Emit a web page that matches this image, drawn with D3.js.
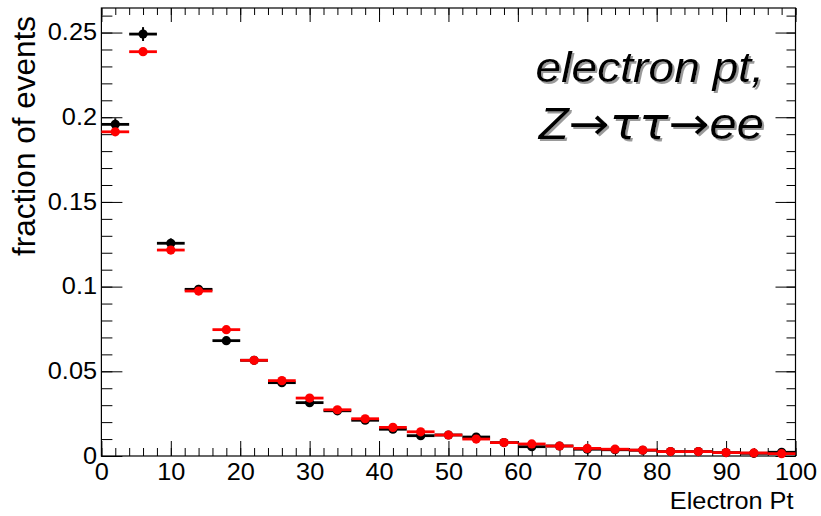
<!DOCTYPE html>
<html>
<head>
<meta charset="utf-8">
<script src="https://cdn.jsdelivr.net/npm/d3@7"></script>
<style>
  html, body { margin: 0; padding: 0; background: #fff; }
  svg { display: block; }
  text { font-family: "Liberation Sans", Arial, Helvetica, sans-serif; }
</style>
</head>
<body>
<svg id="chart" width="821" height="516"></svg>
<script>
// Electron pt spectrum: bins of 4 GeV from 0 to 100
const binCenters = [2, 6, 10, 14, 18, 22, 26, 30, 34, 38, 42, 46, 50, 54, 58, 62, 66, 70, 74, 78, 82, 86, 90, 94, 98];
const binHalfWidth = 2;

// first sample (black)
const blackValues = [0.1958, 0.2491, 0.1256, 0.0984, 0.0681, 0.0565, 0.0433, 0.0315, 0.0267, 0.0211,
                     0.0158, 0.0120, 0.0124, 0.0112, 0.0079, 0.0055, 0.0059, 0.0040, 0.0037, 0.0034,
                     0.0026, 0.0026, 0.0020, 0.0016, 0.0022];
const blackErrors = [0.0036, 0.0041, 0.0029, 0.0026, 0.0021, 0.0019, 0.0017, 0.0014, 0.0013, 0.0012,
                     0.0010, 0.0009, 0.0009, 0.0009, 0.0007, 0.0006, 0.0006, 0.0005, 0.0005, 0.0005,
                     0.0004, 0.0004, 0.0004, 0.0003, 0.0004];

// second sample (red)
const redValues = [0.1914, 0.2387, 0.1216, 0.0974, 0.0746, 0.0565, 0.0445, 0.0342, 0.0273, 0.0220,
                   0.0169, 0.0143, 0.0124, 0.0100, 0.0079, 0.0071, 0.0059, 0.0045, 0.0040, 0.0035,
                   0.0026, 0.0026, 0.0020, 0.0018, 0.0014];
const redErrors = [0.0018, 0.0020, 0.0014, 0.0013, 0.0011, 0.0010, 0.0009, 0.0008, 0.0007, 0.0006,
                   0.0005, 0.0005, 0.0005, 0.0004, 0.0004, 0.0003, 0.0003, 0.0003, 0.0003, 0.0003,
                   0.0002, 0.0002, 0.0002, 0.0002, 0.0002];

// axis ticks
const xMajorTicks = [0, 10, 20, 30, 40, 50, 60, 70, 80, 90, 100];
const xMinorTicks = d3.range(0, 101, 2);
const yMajorTicks = [0, 0.05, 0.1, 0.15, 0.2, 0.25];
const yTickLabels = ["0", "0.05", "0.1", "0.15", "0.2", "0.25"];
const yMinorTicks = [0, 0.01, 0.02, 0.03, 0.04, 0.05, 0.06, 0.07, 0.08, 0.09, 0.1, 0.11, 0.12, 0.13,
                     0.14, 0.15, 0.16, 0.17, 0.18, 0.19, 0.2, 0.21, 0.22, 0.23, 0.24, 0.25, 0.26];

const xDomain = [0, 100];
const yDomain = [0, 0.2645];

const frame = { left: 101.4, right: 795.5, top: 8, bottom: 456 };
const stretch = 1.1;   // glyphs are drawn slightly wide

const svg = d3.select("#chart");
const x = d3.scaleLinear().domain(xDomain).range([frame.left, frame.right]);
const y = d3.scaleLinear().domain(yDomain).range([frame.bottom, frame.top]);

// soft grey drop shadow for the caption
const shadow = svg.append("defs").append("filter")
  .attr("id", "captionShadow")
  .attr("x", "-5%").attr("y", "-20%").attr("width", "115%").attr("height", "150%");
shadow.append("feOffset").attr("in", "SourceAlpha").attr("dx", 2).attr("dy", 2).attr("result", "off");
shadow.append("feFlood").attr("flood-color", "#9a9a9a").attr("result", "col");
shadow.append("feComposite").attr("in", "col").attr("in2", "off").attr("operator", "in").attr("result", "sh");
const merge = shadow.append("feMerge");
merge.append("feMergeNode").attr("in", "sh");
merge.append("feMergeNode").attr("in", "SourceGraphic");

function styleAxis(g, size) {
  g.select(".domain").remove();
  g.selectAll("line").attr("stroke", "#000").attr("stroke-width", 1);
  g.selectAll("text")
    .attr("font-family", "'Liberation Sans', Arial, Helvetica, sans-serif")
    .attr("font-size", size)
    .attr("fill", "#000")
    .attr("transform", `scale(${stretch},1)`);
}

// bottom axis
svg.append("g").attr("transform", `translate(0,${frame.bottom})`)
  .call(d3.axisBottom(x).tickValues(xMinorTicks).tickSize(-8).tickFormat(""))
  .call(g => styleAxis(g, 23));
svg.append("g").attr("transform", `translate(0,${frame.bottom})`)
  .call(d3.axisBottom(x).tickValues(xMajorTicks).tickSize(-15).tickPadding(8).tickFormat(d3.format("d")))
  .call(g => styleAxis(g, 23));

// top axis (ticks only)
svg.append("g").attr("transform", `translate(0,${frame.top})`)
  .call(d3.axisTop(x).tickValues(xMinorTicks).tickSize(-7).tickFormat(""))
  .call(g => styleAxis(g, 23));
svg.append("g").attr("transform", `translate(0,${frame.top})`)
  .call(d3.axisTop(x).tickValues(xMajorTicks).tickSize(-14).tickFormat(""))
  .call(g => styleAxis(g, 23));

// left axis
svg.append("g").attr("transform", `translate(${frame.left},0)`)
  .call(d3.axisLeft(y).tickValues(yMinorTicks).tickSize(-11).tickFormat(""))
  .call(g => styleAxis(g, 23));
svg.append("g").attr("transform", `translate(${frame.left},0)`)
  .call(d3.axisLeft(y).tickValues(yMajorTicks).tickSize(-21).tickPadding(4)
        .tickFormat((d, i) => yTickLabels[i]))
  .call(g => styleAxis(g, 23));

// right axis (ticks only)
svg.append("g").attr("transform", `translate(${frame.right},0)`)
  .call(d3.axisRight(y).tickValues(yMinorTicks).tickSize(-9).tickFormat(""))
  .call(g => styleAxis(g, 23));
svg.append("g").attr("transform", `translate(${frame.right},0)`)
  .call(d3.axisRight(y).tickValues(yMajorTicks).tickSize(-20).tickFormat(""))
  .call(g => styleAxis(g, 23));

// frame
svg.append("rect")
  .attr("x", frame.left).attr("y", frame.top)
  .attr("width", frame.right - frame.left).attr("height", frame.bottom - frame.top)
  .attr("fill", "none").attr("stroke", "#000").attr("stroke-width", 1.2);

// histogram points with error bars
function drawSeries(values, errors, color) {
  const data = binCenters.map((c, i) => ({ c, v: values[i], e: errors[i] }));
  const g = svg.append("g");
  g.selectAll("line.h").data(data).join("line")
    .attr("class", "h")
    .attr("x1", d => x(d.c - binHalfWidth)).attr("x2", d => x(d.c + binHalfWidth))
    .attr("y1", d => y(d.v)).attr("y2", d => y(d.v))
    .attr("stroke", color).attr("stroke-width", 2.8);
  g.selectAll("line.v").data(data).join("line")
    .attr("class", "v")
    .attr("x1", d => x(d.c)).attr("x2", d => x(d.c))
    .attr("y1", d => y(Math.max(0, d.v - d.e))).attr("y2", d => y(d.v + d.e))
    .attr("stroke", color).attr("stroke-width", 2);
  g.selectAll("circle").data(data).join("circle")
    .attr("cx", d => x(d.c)).attr("cy", d => y(d.v))
    .attr("r", 4.6).attr("fill", color);
}
drawSeries(blackValues, blackErrors, "#000");
drawSeries(redValues, redErrors, "#ff0000");

// axis titles
svg.append("text")
  .attr("transform", `translate(${frame.right - 2},509) scale(${stretch},1)`)
  .attr("text-anchor", "end")
  .attr("font-size", 23)
  .text("Electron Pt");

svg.append("text")
  .attr("transform", "translate(35,16) rotate(-90)")
  .attr("text-anchor", "end")
  .attr("font-size", 31.5)
  .text("fraction of events");

// plot caption
const capRight = 764;
const cap = svg.append("g").attr("filter", "url(#captionShadow)");

cap.append("text")
  .attr("transform", `translate(${capRight},81.5) scale(${stretch},1)`)
  .attr("text-anchor", "end")
  .attr("font-size", 42)
  .attr("font-style", "italic")
  .text("electron pt,");

// second line: latin letters in Liberation Sans, arrows and taus in DejaVu Sans
const decayParts = [
  { t: "Z", f: "'Liberation Sans', Arial, sans-serif" },
  { t: "→", f: "'DejaVu Sans', sans-serif" },
  { t: "ττ", f: "'DejaVu Sans', sans-serif" },
  { t: "→", f: "'DejaVu Sans', sans-serif" },
  { t: "ee", f: "'Liberation Sans', Arial, sans-serif" }
];
const line2 = cap.append("text")
  .attr("transform", `translate(${capRight},138.5) scale(${stretch},1)`)
  .attr("text-anchor", "end")
  .attr("font-size", 44.5)
  .attr("font-style", "italic");
line2.selectAll("tspan").data(decayParts).join("tspan")
  .attr("font-family", d => d.f)
  .text(d => d.t);
</script>
</body>
</html>
